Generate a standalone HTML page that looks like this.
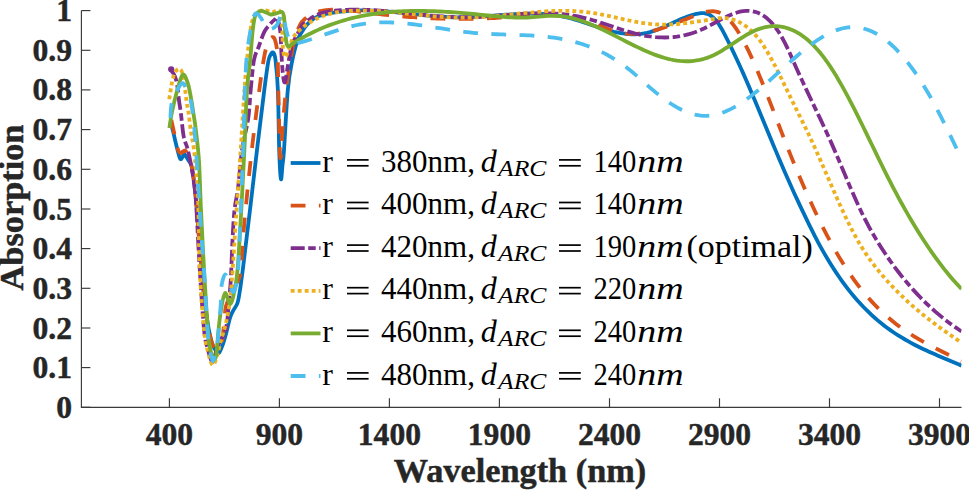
<!DOCTYPE html>
<html><head><meta charset="utf-8"><style>
html,body{margin:0;padding:0;background:#fff;width:969px;height:490px;overflow:hidden;}
svg{display:block;font-family:"Liberation Serif",serif;}
</style></head><body>
<svg width="969" height="490" viewBox="0 0 969 490">
<defs><clipPath id="c"><rect x="81.4" y="0" width="880.1" height="407.3"/></clipPath></defs>
<g clip-path="url(#c)" fill="none" stroke-width="3.80" stroke-linejoin="round">
<path d="M170.40 122.00 C170.83 123.50 172.07 127.33 173.00 131.00 C173.93 134.67 174.83 139.42 176.00 144.00 C177.17 148.58 178.92 156.33 180.00 158.50 C181.08 160.67 181.75 157.67 182.50 157.00 C183.25 156.33 183.58 154.05 184.50 154.50 C185.42 154.95 186.75 157.45 188.00 159.70 C189.25 161.95 190.67 161.28 192.00 168.00 C193.33 174.72 194.67 186.33 196.00 200.00 C197.33 213.67 198.67 234.17 200.00 250.00 C201.33 265.83 202.67 282.50 204.00 295.00 C205.33 307.50 206.67 317.00 208.00 325.00 C209.33 333.00 210.67 338.67 212.00 343.00 C213.33 347.33 214.83 349.33 216.00 351.00 C217.17 352.67 217.83 354.17 219.00 353.00 C220.17 351.83 221.83 347.17 223.00 344.00 C224.17 340.83 224.83 338.33 226.00 334.00 C227.17 329.67 228.83 321.83 230.00 318.00 C231.17 314.17 231.75 313.50 233.00 311.00 C234.25 308.50 236.33 306.50 237.50 303.00 C238.67 299.50 239.08 295.83 240.00 290.00 C240.92 284.17 242.00 275.83 243.00 268.00 C244.00 260.17 244.83 252.67 246.00 243.00 C247.17 233.33 248.17 225.50 250.00 210.00 C251.83 194.50 254.62 170.00 257.00 150.00 C259.38 130.00 262.43 104.67 264.30 90.00 C266.17 75.33 267.17 67.83 268.20 62.00 C269.23 56.17 269.65 56.57 270.50 55.00 C271.35 53.43 272.47 51.77 273.30 52.60 C274.13 53.43 274.73 53.77 275.50 60.00 C276.27 66.23 277.28 75.00 277.90 90.00 C278.52 105.00 278.70 135.17 279.20 150.00 C279.70 164.83 280.35 176.50 280.90 179.00 C281.45 181.50 281.98 169.83 282.50 165.00 C283.02 160.17 283.12 162.50 284.00 150.00 C284.88 137.50 286.47 104.67 287.80 90.00 C289.13 75.33 290.30 70.47 292.00 62.00 C293.70 53.53 295.83 45.01 298.00 39.20 C300.17 33.39 303.83 29.15 305.00 27.14 L308.00 23.52 L311.00 20.66 L314.00 18.46 L317.00 16.81 L320.00 15.58 L323.00 14.68 L326.00 13.98 L329.00 13.39 L332.00 12.86 L335.00 12.38 L338.00 11.97 L341.00 11.61 L344.00 11.30 L347.00 11.04 L350.00 10.83 L353.00 10.67 L356.00 10.56 L359.00 10.49 L362.00 10.46 L365.00 10.47 L368.00 10.52 L371.00 10.60 L374.00 10.72 L377.00 10.86 L380.00 11.04 L383.00 11.23 L386.00 11.45 L389.00 11.69 L392.00 11.95 L395.00 12.23 L398.00 12.51 L401.00 12.81 L404.00 13.12 L407.00 13.43 L410.00 13.74 L413.00 14.06 L416.00 14.38 L419.00 14.69 L422.00 15.00 L425.00 15.30 L428.00 15.58 L431.00 15.86 L434.00 16.12 L437.00 16.36 L440.00 16.59 L443.00 16.79 L446.00 16.96 L449.00 17.11 L452.00 17.23 L455.00 17.32 L458.00 17.37 L461.00 17.39 L464.00 17.37 L467.00 17.31 L470.00 17.22 L473.00 17.10 L476.00 16.95 L479.00 16.77 L482.00 16.58 L485.00 16.37 L488.00 16.15 L491.00 15.92 L494.00 15.68 L497.00 15.44 L500.00 15.20 L503.00 14.96 L506.00 14.74 L509.00 14.52 L512.00 14.32 L515.00 14.14 L518.00 13.98 L521.00 13.84 L524.00 13.74 L527.00 13.66 L530.00 13.62 L533.00 13.62 L536.00 13.67 L539.00 13.76 L542.00 13.90 L545.00 14.09 L548.00 14.34 L551.00 14.65 L554.00 15.02 L557.00 15.46 L560.00 15.97 L563.00 16.55 L566.00 17.21 L569.00 17.95 L572.00 18.76 L575.00 19.62 L578.00 20.53 L581.00 21.48 L584.00 22.46 L587.00 23.45 L590.00 24.46 L593.00 25.47 L596.00 26.47 L599.00 27.45 L602.00 28.40 L605.00 29.32 L608.00 30.19 L611.00 31.00 L614.00 31.74 L617.00 32.41 L620.00 33.00 L623.00 33.49 L626.00 33.87 L629.00 34.15 L632.00 34.29 L635.00 34.31 L638.00 34.19 L641.00 33.91 L644.00 33.47 L647.00 32.86 L650.00 32.08 L653.00 31.16 L656.00 30.11 L659.00 28.96 L662.00 27.72 L665.00 26.41 L668.00 25.06 L671.00 23.68 L674.00 22.30 L677.00 20.94 L680.00 19.61 L683.00 18.34 L686.00 17.14 L689.00 16.04 L692.00 15.06 L695.00 14.22 L698.00 13.55 L701.00 13.16 L704.00 13.20 L707.00 13.80 L710.00 15.09 L713.00 17.21 L716.00 20.31 L719.00 24.44 L722.00 29.44 L725.00 35.05 L728.00 41.01 L731.00 47.12 L734.00 53.35 L737.00 59.72 L740.00 66.23 L743.00 72.89 L746.00 79.70 L749.00 86.62 L752.00 93.65 L755.00 100.76 L758.00 107.94 L761.00 115.16 L764.00 122.42 L767.00 129.69 L770.00 136.95 L773.00 144.19 L776.00 151.38 L779.00 158.51 L782.00 165.57 L785.00 172.52 L788.00 179.36 L791.00 186.07 L794.00 192.67 L797.00 199.17 L800.00 205.58 L803.00 211.92 L806.00 218.18 L809.00 224.35 L812.00 230.41 L815.00 236.31 L818.00 242.04 L821.00 247.57 L824.00 252.91 L827.00 258.06 L830.00 263.01 L833.00 267.79 L836.00 272.38 L839.00 276.80 L842.00 281.05 L845.00 285.14 L848.00 289.07 L851.00 292.84 L854.00 296.46 L857.00 299.94 L860.00 303.27 L863.00 306.47 L866.00 309.53 L869.00 312.47 L872.00 315.29 L875.00 317.99 L878.00 320.57 L881.00 323.05 L884.00 325.42 L887.00 327.69 L890.00 329.87 L893.00 331.96 L896.00 333.96 L899.00 335.88 L902.00 337.73 L905.00 339.50 L908.00 341.21 L911.00 342.86 L914.00 344.45 L917.00 345.98 L920.00 347.47 L923.00 348.92 L926.00 350.32 L929.00 351.69 L932.00 353.04 L935.00 354.35 L938.00 355.65 L941.00 356.93 L944.00 358.21 L947.00 359.47 L950.00 360.73 L953.00 362.00 L956.00 363.28 L959.00 364.56 L961.50 365.65" stroke="#0072BD"/>
<path d="M171.30 120.00 C171.67 121.67 172.62 126.00 173.50 130.00 C174.38 134.00 175.77 140.50 176.60 144.00 C177.43 147.50 177.77 149.50 178.50 151.00 C179.23 152.50 179.88 153.10 181.00 153.00 C182.12 152.90 184.03 149.90 185.20 150.40 C186.37 150.90 186.87 153.07 188.00 156.00 C189.13 158.93 190.67 160.67 192.00 168.00 C193.33 175.33 194.67 186.33 196.00 200.00 C197.33 213.67 198.67 234.17 200.00 250.00 C201.33 265.83 202.67 282.50 204.00 295.00 C205.33 307.50 206.67 317.00 208.00 325.00 C209.33 333.00 210.67 339.00 212.00 343.00 C213.33 347.00 214.83 348.17 216.00 349.00 C217.17 349.83 218.00 349.17 219.00 348.00 C220.00 346.83 221.07 347.00 222.00 342.00 C222.93 337.00 223.93 324.00 224.60 318.00 C225.27 312.00 224.77 310.33 226.00 306.00 C227.23 301.67 229.97 296.33 232.00 292.00 C234.03 287.67 236.75 283.67 238.20 280.00 C239.65 276.33 239.67 279.67 240.70 270.00 C241.73 260.33 242.55 242.00 244.40 222.00 C246.25 202.00 249.32 172.00 251.80 150.00 C254.28 128.00 257.27 105.37 259.30 90.00 C261.33 74.63 262.55 65.80 264.00 57.80 C265.45 49.80 266.62 45.43 268.00 42.00 C269.38 38.57 271.13 37.53 272.30 37.20 C273.47 36.87 274.13 37.03 275.00 40.00 C275.87 42.97 276.92 45.67 277.50 55.00 C278.08 64.33 278.12 80.17 278.50 96.00 C278.88 111.83 279.40 140.00 279.80 150.00 C280.20 160.00 280.48 158.83 280.90 156.00 C281.32 153.17 281.55 143.00 282.30 133.00 C283.05 123.00 284.20 107.17 285.40 96.00 C286.60 84.83 288.07 75.00 289.50 66.00 C290.93 57.00 292.27 48.83 294.00 42.00 C295.73 35.17 298.07 28.87 299.90 25.00 C301.73 21.13 304.15 19.83 305.00 18.79 L308.00 16.33 L311.00 14.54 L314.00 13.12 L317.00 12.02 L320.00 11.18 L323.00 10.57 L326.00 10.14 L329.00 9.85 L332.00 9.68 L335.00 9.60 L338.00 9.63 L341.00 9.73 L344.00 9.91 L347.00 10.16 L350.00 10.45 L353.00 10.79 L356.00 11.15 L359.00 11.54 L362.00 11.94 L365.00 12.34 L368.00 12.73 L371.00 13.11 L374.00 13.48 L377.00 13.83 L380.00 14.18 L383.00 14.52 L386.00 14.84 L389.00 15.15 L392.00 15.45 L395.00 15.74 L398.00 16.02 L401.00 16.29 L404.00 16.54 L407.00 16.78 L410.00 17.01 L413.00 17.23 L416.00 17.43 L419.00 17.62 L422.00 17.80 L425.00 17.97 L428.00 18.12 L431.00 18.26 L434.00 18.39 L437.00 18.50 L440.00 18.60 L443.00 18.69 L446.00 18.77 L449.00 18.83 L452.00 18.87 L455.00 18.90 L458.00 18.92 L461.00 18.92 L464.00 18.91 L467.00 18.89 L470.00 18.85 L473.00 18.80 L476.00 18.73 L479.00 18.64 L482.00 18.54 L485.00 18.43 L488.00 18.30 L491.00 18.16 L494.00 18.00 L497.00 17.82 L500.00 17.63 L503.00 17.42 L506.00 17.21 L509.00 16.98 L512.00 16.75 L515.00 16.52 L518.00 16.29 L521.00 16.07 L524.00 15.86 L527.00 15.67 L530.00 15.49 L533.00 15.34 L536.00 15.21 L539.00 15.11 L542.00 15.05 L545.00 15.03 L548.00 15.05 L551.00 15.11 L554.00 15.23 L557.00 15.39 L560.00 15.62 L563.00 15.90 L566.00 16.26 L569.00 16.68 L572.00 17.17 L575.00 17.74 L578.00 18.39 L581.00 19.12 L584.00 19.94 L587.00 20.86 L590.00 21.87 L593.00 22.97 L596.00 24.15 L599.00 25.36 L602.00 26.59 L605.00 27.81 L608.00 28.98 L611.00 30.08 L614.00 31.08 L617.00 31.94 L620.00 32.65 L623.00 33.19 L626.00 33.57 L629.00 33.79 L632.00 33.87 L635.00 33.80 L638.00 33.61 L641.00 33.30 L644.00 32.87 L647.00 32.33 L650.00 31.69 L653.00 30.96 L656.00 30.15 L659.00 29.27 L662.00 28.31 L665.00 27.29 L668.00 26.23 L671.00 25.11 L674.00 23.96 L677.00 22.78 L680.00 21.59 L683.00 20.37 L686.00 19.15 L689.00 17.94 L692.00 16.73 L695.00 15.54 L698.00 14.39 L701.00 13.32 L704.00 12.40 L707.00 11.71 L710.00 11.29 L713.00 11.23 L716.00 11.59 L719.00 12.43 L722.00 13.81 L725.00 15.82 L728.00 18.46 L731.00 21.72 L734.00 25.55 L737.00 29.91 L740.00 34.76 L743.00 40.07 L746.00 45.80 L749.00 51.91 L752.00 58.37 L755.00 65.12 L758.00 72.15 L761.00 79.40 L764.00 86.84 L767.00 94.43 L770.00 102.14 L773.00 109.92 L776.00 117.73 L779.00 125.55 L782.00 133.33 L785.00 141.03 L788.00 148.62 L791.00 156.09 L794.00 163.44 L797.00 170.67 L800.00 177.77 L803.00 184.73 L806.00 191.57 L809.00 198.26 L812.00 204.81 L815.00 211.22 L818.00 217.48 L821.00 223.59 L824.00 229.54 L827.00 235.33 L830.00 240.96 L833.00 246.42 L836.00 251.72 L839.00 256.84 L842.00 261.79 L845.00 266.56 L848.00 271.14 L851.00 275.55 L854.00 279.79 L857.00 283.86 L860.00 287.76 L863.00 291.51 L866.00 295.11 L869.00 298.56 L872.00 301.87 L875.00 305.04 L878.00 308.09 L881.00 311.00 L884.00 313.80 L887.00 316.48 L890.00 319.05 L893.00 321.52 L896.00 323.89 L899.00 326.16 L902.00 328.35 L905.00 330.45 L908.00 332.47 L911.00 334.42 L914.00 336.31 L917.00 338.12 L920.00 339.88 L923.00 341.59 L926.00 343.26 L929.00 344.88 L932.00 346.46 L935.00 348.01 L938.00 349.54 L941.00 351.04 L944.00 352.53 L947.00 354.01 L950.00 355.48 L953.00 356.95 L956.00 358.43 L959.00 359.92 L961.50 361.17" stroke="#D95319" stroke-dasharray="14.8 13.4"/>
<path d="M170.40 69.20 C171.12 70.32 173.58 73.35 174.70 75.90 C175.82 78.45 176.38 80.42 177.10 84.50 C177.82 88.58 178.38 95.72 179.00 100.40 C179.62 105.08 180.02 106.58 180.80 112.60 C181.58 118.62 182.57 130.43 183.70 136.50 C184.83 142.57 186.25 143.58 187.60 149.00 C188.95 154.42 190.58 162.17 191.80 169.00 C193.02 175.83 194.12 183.17 194.90 190.00 C195.68 196.83 195.68 196.67 196.50 210.00 C197.32 223.33 198.53 250.00 199.80 270.00 C201.07 290.00 202.73 316.67 204.10 330.00 C205.47 343.33 206.65 344.67 208.00 350.00 C209.35 355.33 210.87 361.67 212.20 362.00 C213.53 362.33 214.70 355.50 216.00 352.00 C217.30 348.50 218.67 344.00 220.00 341.00 C221.33 338.00 222.83 337.00 224.00 334.00 C225.17 331.00 226.17 328.67 227.00 323.00 C227.83 317.33 228.37 307.17 229.00 300.00 C229.63 292.83 230.22 290.00 230.80 280.00 C231.38 270.00 231.88 251.67 232.50 240.00 C233.12 228.33 233.55 218.83 234.50 210.00 C235.45 201.17 236.95 197.00 238.20 187.00 C239.45 177.00 240.33 161.42 242.00 150.00 C243.67 138.58 246.75 128.50 248.20 118.50 C249.65 108.50 249.73 99.75 250.70 90.00 C251.67 80.25 252.65 67.25 254.00 60.00 C255.35 52.75 257.08 51.20 258.80 46.50 C260.52 41.80 262.47 35.47 264.30 31.80 C266.13 28.13 268.07 26.53 269.80 24.50 C271.53 22.47 273.47 20.62 274.70 19.60 C275.93 18.58 276.28 16.57 277.20 18.40 C278.12 20.23 279.48 24.50 280.20 30.60 C280.92 36.70 281.03 47.60 281.50 55.00 C281.97 62.40 282.42 70.50 283.00 75.00 C283.58 79.50 284.17 83.67 285.00 82.00 C285.83 80.33 286.83 71.17 288.00 65.00 C289.17 58.83 290.33 50.33 292.00 45.00 C293.67 39.67 296.30 36.37 298.00 33.00 C299.70 29.63 301.03 26.41 302.20 24.80 C303.37 23.19 304.53 23.57 305.00 23.32 L308.00 20.54 L311.00 18.22 L314.00 16.34 L317.00 14.82 L320.00 13.63 L323.00 12.71 L326.00 12.01 L329.00 11.48 L332.00 11.07 L335.00 10.74 L338.00 10.45 L341.00 10.21 L344.00 10.02 L347.00 9.87 L350.00 9.77 L353.00 9.70 L356.00 9.68 L359.00 9.69 L362.00 9.73 L365.00 9.81 L368.00 9.91 L371.00 10.05 L374.00 10.21 L377.00 10.40 L380.00 10.60 L383.00 10.83 L386.00 11.08 L389.00 11.34 L392.00 11.62 L395.00 11.90 L398.00 12.20 L401.00 12.51 L404.00 12.82 L407.00 13.14 L410.00 13.46 L413.00 13.77 L416.00 14.09 L419.00 14.40 L422.00 14.71 L425.00 15.01 L428.00 15.29 L431.00 15.57 L434.00 15.83 L437.00 16.07 L440.00 16.30 L443.00 16.51 L446.00 16.69 L449.00 16.85 L452.00 16.98 L455.00 17.09 L458.00 17.16 L461.00 17.21 L464.00 17.21 L467.00 17.19 L470.00 17.13 L473.00 17.05 L476.00 16.94 L479.00 16.80 L482.00 16.65 L485.00 16.48 L488.00 16.29 L491.00 16.09 L494.00 15.88 L497.00 15.67 L500.00 15.44 L503.00 15.22 L506.00 15.00 L509.00 14.78 L512.00 14.56 L515.00 14.35 L518.00 14.16 L521.00 13.97 L524.00 13.81 L527.00 13.66 L530.00 13.53 L533.00 13.43 L536.00 13.35 L539.00 13.30 L542.00 13.28 L545.00 13.30 L548.00 13.35 L551.00 13.44 L554.00 13.58 L557.00 13.76 L560.00 13.98 L563.00 14.26 L566.00 14.58 L569.00 14.97 L572.00 15.41 L575.00 15.91 L578.00 16.47 L581.00 17.10 L584.00 17.79 L587.00 18.55 L590.00 19.36 L593.00 20.23 L596.00 21.13 L599.00 22.08 L602.00 23.05 L605.00 24.03 L608.00 25.04 L611.00 26.05 L614.00 27.06 L617.00 28.05 L620.00 29.04 L623.00 30.00 L626.00 30.93 L629.00 31.83 L632.00 32.68 L635.00 33.47 L638.00 34.21 L641.00 34.89 L644.00 35.49 L647.00 36.02 L650.00 36.47 L653.00 36.84 L656.00 37.13 L659.00 37.34 L662.00 37.46 L665.00 37.49 L668.00 37.43 L671.00 37.27 L674.00 37.01 L677.00 36.65 L680.00 36.19 L683.00 35.62 L686.00 34.94 L689.00 34.15 L692.00 33.25 L695.00 32.22 L698.00 31.08 L701.00 29.82 L704.00 28.43 L707.00 26.94 L710.00 25.37 L713.00 23.76 L716.00 22.13 L719.00 20.50 L722.00 18.92 L725.00 17.39 L728.00 15.96 L731.00 14.65 L734.00 13.48 L737.00 12.49 L740.00 11.70 L743.00 11.14 L746.00 10.84 L749.00 10.83 L752.00 11.13 L755.00 11.77 L758.00 12.78 L761.00 14.19 L764.00 16.03 L767.00 18.31 L770.00 21.08 L773.00 24.36 L776.00 28.17 L779.00 32.54 L782.00 37.51 L785.00 43.10 L788.00 49.28 L791.00 55.86 L794.00 62.65 L797.00 69.41 L800.00 76.03 L803.00 82.53 L806.00 88.93 L809.00 95.26 L812.00 101.54 L815.00 107.81 L818.00 114.10 L821.00 120.42 L824.00 126.80 L827.00 133.28 L830.00 139.89 L833.00 146.64 L836.00 153.55 L839.00 160.58 L842.00 167.68 L845.00 174.80 L848.00 181.90 L851.00 188.93 L854.00 195.83 L857.00 202.56 L860.00 209.06 L863.00 215.30 L866.00 221.23 L869.00 226.87 L872.00 232.26 L875.00 237.42 L878.00 242.37 L881.00 247.16 L884.00 251.79 L887.00 256.27 L890.00 260.60 L893.00 264.79 L896.00 268.84 L899.00 272.77 L902.00 276.57 L905.00 280.26 L908.00 283.83 L911.00 287.29 L914.00 290.64 L917.00 293.89 L920.00 297.04 L923.00 300.09 L926.00 303.04 L929.00 305.89 L932.00 308.66 L935.00 311.33 L938.00 313.91 L941.00 316.41 L944.00 318.82 L947.00 321.15 L950.00 323.41 L953.00 325.58 L956.00 327.68 L959.00 329.71 L961.50 331.35" stroke="#7E2F8E" stroke-dasharray="14 3.5 7.5 3.5"/>
<circle cx="171.2" cy="69.3" r="3.1" fill="#7E2F8E" stroke="none"/>
<path d="M169.20 99.20 C169.40 97.97 170.00 94.25 170.40 91.80 C170.80 89.35 171.18 86.73 171.60 84.50 C172.02 82.27 172.28 80.55 172.90 78.40 C173.52 76.25 174.08 73.17 175.30 71.60 C176.52 70.03 178.92 68.27 180.20 69.00 C181.48 69.73 182.18 72.60 183.00 76.00 C183.82 79.40 184.45 84.73 185.10 89.40 C185.75 94.07 186.38 100.53 186.90 104.00 C187.42 107.47 187.55 105.80 188.20 110.20 C188.85 114.60 189.85 123.97 190.80 130.40 C191.75 136.83 193.03 142.03 193.90 148.80 C194.77 155.57 195.32 163.18 196.00 171.00 C196.68 178.82 197.37 179.20 198.00 195.70 C198.63 212.20 198.78 247.62 199.80 270.00 C200.82 292.38 202.73 316.33 204.10 330.00 C205.47 343.67 206.57 346.17 208.00 352.00 C209.43 357.83 211.20 364.33 212.70 365.00 C214.20 365.67 215.62 360.17 217.00 356.00 C218.38 351.83 219.50 345.50 221.00 340.00 C222.50 334.50 224.50 329.67 226.00 323.00 C227.50 316.33 228.90 308.83 230.00 300.00 C231.10 291.17 231.55 284.38 232.60 270.00 C233.65 255.62 234.95 233.70 236.30 213.70 C237.65 193.70 239.45 168.95 240.70 150.00 C241.95 131.05 242.92 113.33 243.80 100.00 C244.68 86.67 245.13 79.67 246.00 70.00 C246.87 60.33 248.00 50.00 249.00 42.00 C250.00 34.00 250.67 26.92 252.00 22.00 C253.33 17.08 254.83 14.45 257.00 12.50 C259.17 10.55 262.50 10.35 265.00 10.30 C267.50 10.25 269.58 12.12 272.00 12.20 C274.42 12.28 277.83 8.75 279.50 10.80 C281.17 12.85 281.42 18.13 282.00 24.50 C282.58 30.87 282.50 43.58 283.00 49.00 C283.50 54.42 284.17 56.50 285.00 57.00 C285.83 57.50 286.83 54.83 288.00 52.00 C289.17 49.17 290.58 43.17 292.00 40.00 C293.42 36.83 294.33 35.40 296.50 33.00 C298.67 30.60 303.58 26.83 305.00 25.60 L308.00 23.54 L311.00 21.68 L314.00 20.01 L317.00 18.52 L320.00 17.20 L323.00 16.03 L326.00 15.02 L329.00 14.14 L332.00 13.39 L335.00 12.75 L338.00 12.22 L341.00 11.79 L344.00 11.44 L347.00 11.16 L350.00 10.95 L353.00 10.79 L356.00 10.68 L359.00 10.61 L362.00 10.59 L365.00 10.60 L368.00 10.65 L371.00 10.73 L374.00 10.84 L377.00 10.99 L380.00 11.16 L383.00 11.35 L386.00 11.57 L389.00 11.81 L392.00 12.07 L395.00 12.34 L398.00 12.63 L401.00 12.93 L404.00 13.23 L407.00 13.55 L410.00 13.87 L413.00 14.18 L416.00 14.50 L419.00 14.82 L422.00 15.13 L425.00 15.44 L428.00 15.73 L431.00 16.02 L434.00 16.29 L437.00 16.54 L440.00 16.78 L443.00 16.99 L446.00 17.18 L449.00 17.35 L452.00 17.49 L455.00 17.59 L458.00 17.67 L461.00 17.71 L464.00 17.71 L467.00 17.68 L470.00 17.62 L473.00 17.52 L476.00 17.39 L479.00 17.23 L482.00 17.05 L485.00 16.85 L488.00 16.63 L491.00 16.38 L494.00 16.13 L497.00 15.85 L500.00 15.57 L503.00 15.28 L506.00 14.97 L509.00 14.67 L512.00 14.36 L515.00 14.05 L518.00 13.74 L521.00 13.43 L524.00 13.13 L527.00 12.84 L530.00 12.56 L533.00 12.29 L536.00 12.04 L539.00 11.80 L542.00 11.59 L545.00 11.39 L548.00 11.22 L551.00 11.07 L554.00 10.95 L557.00 10.86 L560.00 10.81 L563.00 10.79 L566.00 10.80 L569.00 10.86 L572.00 10.96 L575.00 11.10 L578.00 11.28 L581.00 11.52 L584.00 11.80 L587.00 12.14 L590.00 12.53 L593.00 12.98 L596.00 13.48 L599.00 14.02 L602.00 14.60 L605.00 15.21 L608.00 15.85 L611.00 16.51 L614.00 17.18 L617.00 17.85 L620.00 18.53 L623.00 19.20 L626.00 19.86 L629.00 20.50 L632.00 21.11 L635.00 21.69 L638.00 22.24 L641.00 22.74 L644.00 23.19 L647.00 23.59 L650.00 23.92 L653.00 24.18 L656.00 24.38 L659.00 24.50 L662.00 24.56 L665.00 24.56 L668.00 24.50 L671.00 24.39 L674.00 24.22 L677.00 24.01 L680.00 23.75 L683.00 23.45 L686.00 23.12 L689.00 22.75 L692.00 22.35 L695.00 21.93 L698.00 21.48 L701.00 21.01 L704.00 20.53 L707.00 20.03 L710.00 19.52 L713.00 19.02 L716.00 18.57 L719.00 18.23 L722.00 18.06 L725.00 18.12 L728.00 18.44 L731.00 19.04 L734.00 19.91 L737.00 21.07 L740.00 22.52 L743.00 24.26 L746.00 26.30 L749.00 28.66 L752.00 31.37 L755.00 34.47 L758.00 37.99 L761.00 41.96 L764.00 46.38 L767.00 51.21 L770.00 56.39 L773.00 61.90 L776.00 67.66 L779.00 73.63 L782.00 79.74 L785.00 85.95 L788.00 92.20 L791.00 98.42 L794.00 104.56 L797.00 110.61 L800.00 116.63 L803.00 122.66 L806.00 128.78 L809.00 135.04 L812.00 141.47 L815.00 148.07 L818.00 154.79 L821.00 161.61 L824.00 168.49 L827.00 175.40 L830.00 182.31 L833.00 189.19 L836.00 196.01 L839.00 202.73 L842.00 209.32 L845.00 215.75 L848.00 221.99 L851.00 228.01 L854.00 233.77 L857.00 239.24 L860.00 244.41 L863.00 249.29 L866.00 253.91 L869.00 258.29 L872.00 262.45 L875.00 266.41 L878.00 270.19 L881.00 273.82 L884.00 277.31 L887.00 280.68 L890.00 283.96 L893.00 287.15 L896.00 290.25 L899.00 293.26 L902.00 296.18 L905.00 299.03 L908.00 301.80 L911.00 304.50 L914.00 307.14 L917.00 309.70 L920.00 312.21 L923.00 314.66 L926.00 317.06 L929.00 319.41 L932.00 321.71 L935.00 323.97 L938.00 326.19 L941.00 328.38 L944.00 330.53 L947.00 332.66 L950.00 334.77 L953.00 336.85 L956.00 338.92 L959.00 340.97 L961.50 342.68" stroke="#EDB120" stroke-dasharray="3.9 3.1"/>
<path d="M169.40 128.00 C169.83 125.33 170.90 117.50 172.00 112.00 C173.10 106.50 174.53 100.60 176.00 95.00 C177.47 89.40 179.48 81.78 180.80 78.40 C182.12 75.02 182.67 73.68 183.90 74.70 C185.13 75.72 186.98 80.42 188.20 84.50 C189.42 88.58 190.28 94.12 191.20 99.20 C192.12 104.28 192.92 109.80 193.70 115.00 C194.48 120.20 195.02 122.73 195.90 130.40 C196.78 138.07 198.15 147.73 199.00 161.00 C199.85 174.27 200.15 191.83 201.00 210.00 C201.85 228.17 202.95 250.00 204.10 270.00 C205.25 290.00 206.82 316.57 207.90 330.00 C208.98 343.43 209.63 345.93 210.60 350.60 C211.57 355.27 212.77 357.20 213.70 358.00 C214.63 358.80 215.40 360.07 216.20 355.40 C217.00 350.73 217.70 337.57 218.50 330.00 C219.30 322.43 219.92 316.17 221.00 310.00 C222.08 303.83 223.50 294.00 225.00 293.00 C226.50 292.00 228.50 304.00 230.00 304.00 C231.50 304.00 232.75 298.67 234.00 293.00 C235.25 287.33 236.28 283.83 237.50 270.00 C238.72 256.17 240.15 230.00 241.30 210.00 C242.45 190.00 243.45 170.00 244.40 150.00 C245.35 130.00 246.03 105.00 247.00 90.00 C247.97 75.00 249.25 69.90 250.20 60.00 C251.15 50.10 251.82 38.10 252.70 30.60 C253.58 23.10 254.12 18.27 255.50 15.00 C256.88 11.73 259.25 11.42 261.00 11.00 C262.75 10.58 264.33 11.92 266.00 12.50 C267.67 13.08 269.33 14.33 271.00 14.50 C272.67 14.67 274.17 13.92 276.00 13.50 C277.83 13.08 280.67 11.42 282.00 12.00 C283.33 12.58 283.47 13.83 284.00 17.00 C284.53 20.17 284.78 26.67 285.20 31.00 C285.62 35.33 285.95 40.42 286.50 43.00 C287.05 45.58 287.58 46.33 288.50 46.50 C289.42 46.67 290.52 44.98 292.00 44.00 C293.48 43.02 295.23 41.87 297.40 40.60 C299.57 39.33 303.73 37.06 305.00 36.36 L308.00 34.76 L311.00 33.24 L314.00 31.77 L317.00 30.37 L320.00 29.03 L323.00 27.75 L326.00 26.53 L329.00 25.36 L332.00 24.25 L335.00 23.20 L338.00 22.20 L341.00 21.25 L344.00 20.35 L347.00 19.50 L350.00 18.70 L353.00 17.95 L356.00 17.24 L359.00 16.58 L362.00 15.96 L365.00 15.39 L368.00 14.85 L371.00 14.36 L374.00 13.90 L377.00 13.48 L380.00 13.10 L383.00 12.75 L386.00 12.44 L389.00 12.15 L392.00 11.90 L395.00 11.69 L398.00 11.50 L401.00 11.34 L404.00 11.20 L407.00 11.10 L410.00 11.02 L413.00 10.97 L416.00 10.94 L419.00 10.94 L422.00 10.96 L425.00 11.00 L428.00 11.06 L431.00 11.14 L434.00 11.25 L437.00 11.37 L440.00 11.51 L443.00 11.66 L446.00 11.84 L449.00 12.02 L452.00 12.23 L455.00 12.44 L458.00 12.67 L461.00 12.91 L464.00 13.16 L467.00 13.42 L470.00 13.69 L473.00 13.97 L476.00 14.26 L479.00 14.55 L482.00 14.85 L485.00 15.15 L488.00 15.46 L491.00 15.76 L494.00 16.05 L497.00 16.33 L500.00 16.59 L503.00 16.83 L506.00 17.04 L509.00 17.23 L512.00 17.38 L515.00 17.50 L518.00 17.57 L521.00 17.59 L524.00 17.57 L527.00 17.49 L530.00 17.35 L533.00 17.15 L536.00 16.91 L539.00 16.64 L542.00 16.38 L545.00 16.15 L548.00 15.96 L551.00 15.84 L554.00 15.80 L557.00 15.88 L560.00 16.09 L563.00 16.42 L566.00 16.87 L569.00 17.44 L572.00 18.11 L575.00 18.88 L578.00 19.75 L581.00 20.71 L584.00 21.75 L587.00 22.87 L590.00 24.06 L593.00 25.31 L596.00 26.61 L599.00 27.97 L602.00 29.38 L605.00 30.82 L608.00 32.29 L611.00 33.79 L614.00 35.31 L617.00 36.84 L620.00 38.38 L623.00 39.92 L626.00 41.46 L629.00 42.98 L632.00 44.48 L635.00 45.96 L638.00 47.41 L641.00 48.82 L644.00 50.19 L647.00 51.51 L650.00 52.77 L653.00 53.97 L656.00 55.10 L659.00 56.16 L662.00 57.13 L665.00 58.02 L668.00 58.82 L671.00 59.51 L674.00 60.10 L677.00 60.58 L680.00 60.93 L683.00 61.16 L686.00 61.27 L689.00 61.23 L692.00 61.05 L695.00 60.72 L698.00 60.24 L701.00 59.60 L704.00 58.80 L707.00 57.85 L710.00 56.72 L713.00 55.43 L716.00 53.96 L719.00 52.34 L722.00 50.59 L725.00 48.74 L728.00 46.82 L731.00 44.85 L734.00 42.86 L737.00 40.88 L740.00 38.92 L743.00 37.03 L746.00 35.22 L749.00 33.51 L752.00 31.95 L755.00 30.55 L758.00 29.33 L761.00 28.30 L764.00 27.48 L767.00 26.85 L770.00 26.43 L773.00 26.21 L776.00 26.20 L779.00 26.41 L782.00 26.84 L785.00 27.48 L788.00 28.35 L791.00 29.45 L794.00 30.79 L797.00 32.35 L800.00 34.16 L803.00 36.21 L806.00 38.51 L809.00 41.05 L812.00 43.85 L815.00 46.90 L818.00 50.22 L821.00 53.80 L824.00 57.65 L827.00 61.76 L830.00 66.14 L833.00 70.76 L836.00 75.61 L839.00 80.67 L842.00 85.92 L845.00 91.34 L848.00 96.91 L851.00 102.63 L854.00 108.46 L857.00 114.40 L860.00 120.42 L863.00 126.51 L866.00 132.65 L869.00 138.82 L872.00 145.01 L875.00 151.20 L878.00 157.36 L881.00 163.49 L884.00 169.56 L887.00 175.56 L890.00 181.46 L893.00 187.26 L896.00 192.96 L899.00 198.54 L902.00 204.02 L905.00 209.38 L908.00 214.64 L911.00 219.78 L914.00 224.81 L917.00 229.72 L920.00 234.53 L923.00 239.22 L926.00 243.79 L929.00 248.25 L932.00 252.59 L935.00 256.82 L938.00 260.93 L941.00 264.92 L944.00 268.79 L947.00 272.54 L950.00 276.17 L953.00 279.68 L956.00 283.07 L959.00 286.34 L961.50 288.97" stroke="#77AC30"/>
<path d="M170.40 118.00 C170.60 115.67 170.68 108.17 171.60 104.00 C172.52 99.83 174.17 96.45 175.90 93.00 C177.63 89.55 180.32 84.13 182.00 83.30 C183.68 82.47 184.57 85.22 186.00 88.00 C187.43 90.78 189.35 94.67 190.60 100.00 C191.85 105.33 192.60 111.67 193.50 120.00 C194.40 128.33 195.17 138.33 196.00 150.00 C196.83 161.67 197.67 176.67 198.50 190.00 C199.33 203.33 200.08 216.67 201.00 230.00 C201.92 243.33 202.92 253.33 204.00 270.00 C205.08 286.67 206.50 316.67 207.50 330.00 C208.50 343.33 209.13 344.83 210.00 350.00 C210.87 355.17 211.87 360.17 212.70 361.00 C213.53 361.83 214.15 358.43 215.00 355.00 C215.85 351.57 216.82 349.23 217.80 340.40 C218.78 331.57 220.28 311.07 220.90 302.00 C221.52 292.93 220.78 290.62 221.50 286.00 C222.22 281.38 223.95 274.63 225.20 274.30 C226.45 273.97 227.65 281.00 229.00 284.00 C230.35 287.00 232.13 292.13 233.30 292.30 C234.47 292.47 235.18 288.72 236.00 285.00 C236.82 281.28 237.42 282.50 238.20 270.00 C238.98 257.50 239.87 230.00 240.70 210.00 C241.53 190.00 242.57 168.33 243.20 150.00 C243.83 131.67 243.93 115.33 244.50 100.00 C245.07 84.67 245.60 69.67 246.60 58.00 C247.60 46.33 249.27 37.00 250.50 30.00 C251.73 23.00 252.92 18.75 254.00 16.00 C255.08 13.25 255.83 13.17 257.00 13.50 C258.17 13.83 259.58 15.87 261.00 18.00 C262.42 20.13 263.83 24.47 265.50 26.30 C267.17 28.13 269.05 29.30 271.00 29.00 C272.95 28.70 275.45 27.08 277.20 24.50 C278.95 21.92 280.37 14.25 281.50 13.50 C282.63 12.75 283.20 17.25 284.00 20.00 C284.80 22.75 285.30 26.42 286.30 30.00 C287.30 33.58 288.38 39.28 290.00 41.50 C291.62 43.72 293.50 43.36 296.00 43.30 C298.50 43.24 303.50 41.51 305.00 41.15 L308.00 40.23 L311.00 39.26 L314.00 38.27 L317.00 37.26 L320.00 36.23 L323.00 35.20 L326.00 34.17 L329.00 33.14 L332.00 32.13 L335.00 31.13 L338.00 30.16 L341.00 29.22 L344.00 28.32 L347.00 27.47 L350.00 26.66 L353.00 25.92 L356.00 25.24 L359.00 24.63 L362.00 24.10 L365.00 23.65 L368.00 23.27 L371.00 22.96 L374.00 22.71 L377.00 22.53 L380.00 22.41 L383.00 22.35 L386.00 22.34 L389.00 22.38 L392.00 22.48 L395.00 22.62 L398.00 22.80 L401.00 23.02 L404.00 23.28 L407.00 23.58 L410.00 23.90 L413.00 24.26 L416.00 24.64 L419.00 25.04 L422.00 25.46 L425.00 25.90 L428.00 26.35 L431.00 26.81 L434.00 27.28 L437.00 27.76 L440.00 28.24 L443.00 28.71 L446.00 29.18 L449.00 29.65 L452.00 30.10 L455.00 30.55 L458.00 30.97 L461.00 31.38 L464.00 31.77 L467.00 32.13 L470.00 32.47 L473.00 32.77 L476.00 33.04 L479.00 33.28 L482.00 33.49 L485.00 33.68 L488.00 33.85 L491.00 34.00 L494.00 34.13 L497.00 34.24 L500.00 34.35 L503.00 34.45 L506.00 34.54 L509.00 34.64 L512.00 34.73 L515.00 34.83 L518.00 34.93 L521.00 35.04 L524.00 35.17 L527.00 35.31 L530.00 35.47 L533.00 35.65 L536.00 35.85 L539.00 36.08 L542.00 36.34 L545.00 36.63 L548.00 36.96 L551.00 37.33 L554.00 37.73 L557.00 38.18 L560.00 38.68 L563.00 39.23 L566.00 39.82 L569.00 40.48 L572.00 41.19 L575.00 41.96 L578.00 42.80 L581.00 43.70 L584.00 44.67 L587.00 45.72 L590.00 46.84 L593.00 48.04 L596.00 49.32 L599.00 50.68 L602.00 52.13 L605.00 53.66 L608.00 55.29 L611.00 57.01 L614.00 58.82 L617.00 60.73 L620.00 62.73 L623.00 64.84 L626.00 67.06 L629.00 69.38 L632.00 71.81 L635.00 74.33 L638.00 76.94 L641.00 79.59 L644.00 82.26 L647.00 84.93 L650.00 87.57 L653.00 90.15 L656.00 92.66 L659.00 95.08 L662.00 97.41 L665.00 99.64 L668.00 101.75 L671.00 103.76 L674.00 105.63 L677.00 107.38 L680.00 108.98 L683.00 110.44 L686.00 111.74 L689.00 112.88 L692.00 113.85 L695.00 114.63 L698.00 115.23 L701.00 115.64 L704.00 115.84 L707.00 115.83 L710.00 115.61 L713.00 115.19 L716.00 114.58 L719.00 113.78 L722.00 112.81 L725.00 111.66 L728.00 110.36 L731.00 108.91 L734.00 107.32 L737.00 105.59 L740.00 103.73 L743.00 101.76 L746.00 99.68 L749.00 97.50 L752.00 95.22 L755.00 92.86 L758.00 90.43 L761.00 87.92 L764.00 85.36 L767.00 82.75 L770.00 80.10 L773.00 77.42 L776.00 74.71 L779.00 72.00 L782.00 69.28 L785.00 66.56 L788.00 63.86 L791.00 61.19 L794.00 58.55 L797.00 55.95 L800.00 53.41 L803.00 50.92 L806.00 48.51 L809.00 46.18 L812.00 43.94 L815.00 41.80 L818.00 39.76 L821.00 37.84 L824.00 36.05 L827.00 34.40 L830.00 32.89 L833.00 31.54 L836.00 30.35 L839.00 29.33 L842.00 28.50 L845.00 27.85 L848.00 27.41 L851.00 27.18 L854.00 27.17 L857.00 27.36 L860.00 27.78 L863.00 28.40 L866.00 29.24 L869.00 30.29 L872.00 31.55 L875.00 33.02 L878.00 34.70 L881.00 36.59 L884.00 38.69 L887.00 40.99 L890.00 43.50 L893.00 46.22 L896.00 49.14 L899.00 52.26 L902.00 55.59 L905.00 59.12 L908.00 62.85 L911.00 66.79 L914.00 70.92 L917.00 75.25 L920.00 79.79 L923.00 84.52 L926.00 89.44 L929.00 94.57 L932.00 99.89 L935.00 105.39 L938.00 111.05 L941.00 116.85 L944.00 122.78 L947.00 128.81 L950.00 134.92 L953.00 141.09 L956.00 147.30 L959.00 153.54 L961.50 158.74" stroke="#4DBEEE" stroke-dasharray="14.8 13.4"/>
</g>
<g stroke="#3a3a3a" stroke-width="1.15" fill="none">
<path d="M81.4 10.6 V407.3 H961.5"/>
<path d="M81.4 407.3 H90.4"/>
<path d="M81.4 367.6 H90.4"/>
<path d="M81.4 328.0 H90.4"/>
<path d="M81.4 288.3 H90.4"/>
<path d="M81.4 248.6 H90.4"/>
<path d="M81.4 209.0 H90.4"/>
<path d="M81.4 169.3 H90.4"/>
<path d="M81.4 129.6 H90.4"/>
<path d="M81.4 89.9 H90.4"/>
<path d="M81.4 50.3 H90.4"/>
<path d="M81.4 10.6 H90.4"/>
<path d="M169.4 407.3 V398.3"/>
<path d="M279.4 407.3 V398.3"/>
<path d="M389.4 407.3 V398.3"/>
<path d="M499.4 407.3 V398.3"/>
<path d="M609.5 407.3 V398.3"/>
<path d="M719.5 407.3 V398.3"/>
<path d="M829.5 407.3 V398.3"/>
<path d="M939.5 407.3 V398.3"/>
</g>
<g fill="#262626" stroke="#262626" stroke-width="0.45" font-family="Liberation Serif" font-weight="bold" font-size="31.6">
<text x="72" y="417.8" text-anchor="end">0</text>
<text x="72" y="378.1" text-anchor="end">0.1</text>
<text x="72" y="338.5" text-anchor="end">0.2</text>
<text x="72" y="298.8" text-anchor="end">0.3</text>
<text x="72" y="259.1" text-anchor="end">0.4</text>
<text x="72" y="219.5" text-anchor="end">0.5</text>
<text x="72" y="179.8" text-anchor="end">0.6</text>
<text x="72" y="140.1" text-anchor="end">0.7</text>
<text x="72" y="100.4" text-anchor="end">0.8</text>
<text x="72" y="60.8" text-anchor="end">0.9</text>
<text x="72" y="21.1" text-anchor="end">1</text>
<text x="169.4" y="444.7" text-anchor="middle">400</text>
<text x="279.4" y="444.7" text-anchor="middle">900</text>
<text x="389.4" y="444.7" text-anchor="middle">1400</text>
<text x="499.4" y="444.7" text-anchor="middle">1900</text>
<text x="609.5" y="444.7" text-anchor="middle">2400</text>
<text x="719.5" y="444.7" text-anchor="middle">2900</text>
<text x="829.5" y="444.7" text-anchor="middle">3400</text>
<text x="939.5" y="444.7" text-anchor="middle">3900</text>
<text x="520" y="481.5" text-anchor="middle" font-size="34.3">Wavelength (nm)</text>
<text transform="translate(23 207.5) rotate(-90)" text-anchor="middle" font-size="34.3">Absorption</text>
</g>
<g fill="#000" font-family="Liberation Serif" font-size="32">
<path d="M290.7 163.0 H320.5" stroke-width="3.80" stroke="#0072BD" fill="none"/>
<text x="322.3" y="171.5">r</text>
<rect x="347" y="159.05" width="21.6" height="1.7"/><rect x="347" y="164.95" width="21.6" height="1.7"/>
<text x="381.1" y="171.5" textLength="93.8" lengthAdjust="spacingAndGlyphs">380nm,</text>
<text x="480.7" y="171.5" font-style="italic">d</text>
<text x="498" y="175.5" font-style="italic" font-size="24" textLength="48.4" lengthAdjust="spacingAndGlyphs">ARC</text>
<rect x="559" y="159.05" width="21.8" height="1.7"/><rect x="559" y="164.95" width="21.8" height="1.7"/>
<text x="593.4" y="171.5" textLength="42.8" lengthAdjust="spacingAndGlyphs">140</text>
<text x="637.3" y="171.5" font-style="italic" textLength="46.3" lengthAdjust="spacingAndGlyphs">nm</text>
<path d="M290.7 205.6 H320.5" stroke-width="3.80" stroke="#D95319" stroke-dasharray="14.8 13.4" fill="none"/>
<text x="322.3" y="214.1">r</text>
<rect x="347" y="201.65" width="21.6" height="1.7"/><rect x="347" y="207.55" width="21.6" height="1.7"/>
<text x="381.1" y="214.1" textLength="93.8" lengthAdjust="spacingAndGlyphs">400nm,</text>
<text x="480.7" y="214.1" font-style="italic">d</text>
<text x="498" y="218.1" font-style="italic" font-size="24" textLength="48.4" lengthAdjust="spacingAndGlyphs">ARC</text>
<rect x="559" y="201.65" width="21.8" height="1.7"/><rect x="559" y="207.55" width="21.8" height="1.7"/>
<text x="593.4" y="214.1" textLength="42.8" lengthAdjust="spacingAndGlyphs">140</text>
<text x="637.3" y="214.1" font-style="italic" textLength="46.3" lengthAdjust="spacingAndGlyphs">nm</text>
<path d="M290.7 248.2 H320.5" stroke-width="3.80" stroke="#7E2F8E" stroke-dasharray="14 3.5 7.5 3.5" fill="none"/>
<text x="322.3" y="256.7">r</text>
<rect x="347" y="244.25" width="21.6" height="1.7"/><rect x="347" y="250.15" width="21.6" height="1.7"/>
<text x="381.1" y="256.7" textLength="93.8" lengthAdjust="spacingAndGlyphs">420nm,</text>
<text x="480.7" y="256.7" font-style="italic">d</text>
<text x="498" y="260.7" font-style="italic" font-size="24" textLength="48.4" lengthAdjust="spacingAndGlyphs">ARC</text>
<rect x="559" y="244.25" width="21.8" height="1.7"/><rect x="559" y="250.15" width="21.8" height="1.7"/>
<text x="593.4" y="256.7" textLength="42.8" lengthAdjust="spacingAndGlyphs">190</text>
<text x="637.3" y="256.7" font-style="italic" textLength="46.3" lengthAdjust="spacingAndGlyphs">nm</text>
<text x="686.5" y="256.7" textLength="126.3" lengthAdjust="spacingAndGlyphs">(optimal)</text>
<path d="M290.7 290.8 H320.5" stroke-width="3.80" stroke="#EDB120" stroke-dasharray="3.9 3.1" fill="none"/>
<text x="322.3" y="299.3">r</text>
<rect x="347" y="286.85" width="21.6" height="1.7"/><rect x="347" y="292.75" width="21.6" height="1.7"/>
<text x="381.1" y="299.3" textLength="93.8" lengthAdjust="spacingAndGlyphs">440nm,</text>
<text x="480.7" y="299.3" font-style="italic">d</text>
<text x="498" y="303.3" font-style="italic" font-size="24" textLength="48.4" lengthAdjust="spacingAndGlyphs">ARC</text>
<rect x="559" y="286.85" width="21.8" height="1.7"/><rect x="559" y="292.75" width="21.8" height="1.7"/>
<text x="593.4" y="299.3" textLength="42.8" lengthAdjust="spacingAndGlyphs">220</text>
<text x="637.3" y="299.3" font-style="italic" textLength="46.3" lengthAdjust="spacingAndGlyphs">nm</text>
<path d="M290.7 333.4 H320.5" stroke-width="3.80" stroke="#77AC30" fill="none"/>
<text x="322.3" y="341.9">r</text>
<rect x="347" y="329.45" width="21.6" height="1.7"/><rect x="347" y="335.35" width="21.6" height="1.7"/>
<text x="381.1" y="341.9" textLength="93.8" lengthAdjust="spacingAndGlyphs">460nm,</text>
<text x="480.7" y="341.9" font-style="italic">d</text>
<text x="498" y="345.9" font-style="italic" font-size="24" textLength="48.4" lengthAdjust="spacingAndGlyphs">ARC</text>
<rect x="559" y="329.45" width="21.8" height="1.7"/><rect x="559" y="335.35" width="21.8" height="1.7"/>
<text x="593.4" y="341.9" textLength="42.8" lengthAdjust="spacingAndGlyphs">240</text>
<text x="637.3" y="341.9" font-style="italic" textLength="46.3" lengthAdjust="spacingAndGlyphs">nm</text>
<path d="M290.7 376.0 H320.5" stroke-width="3.80" stroke="#4DBEEE" stroke-dasharray="14.8 13.4" fill="none"/>
<text x="322.3" y="384.5">r</text>
<rect x="347" y="372.05" width="21.6" height="1.7"/><rect x="347" y="377.95" width="21.6" height="1.7"/>
<text x="381.1" y="384.5" textLength="93.8" lengthAdjust="spacingAndGlyphs">480nm,</text>
<text x="480.7" y="384.5" font-style="italic">d</text>
<text x="498" y="388.5" font-style="italic" font-size="24" textLength="48.4" lengthAdjust="spacingAndGlyphs">ARC</text>
<rect x="559" y="372.05" width="21.8" height="1.7"/><rect x="559" y="377.95" width="21.8" height="1.7"/>
<text x="593.4" y="384.5" textLength="42.8" lengthAdjust="spacingAndGlyphs">240</text>
<text x="637.3" y="384.5" font-style="italic" textLength="46.3" lengthAdjust="spacingAndGlyphs">nm</text>
</g>
</svg>
</body></html>
